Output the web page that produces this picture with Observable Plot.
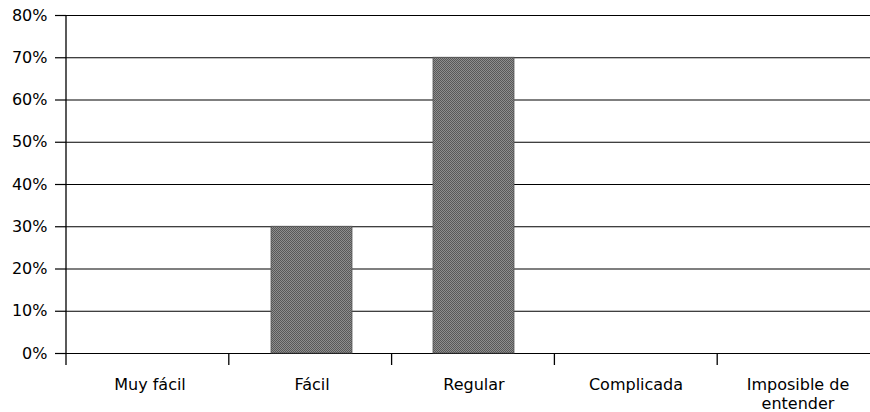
<!DOCTYPE html>
<html><head><meta charset="utf-8">
<script src="https://cdn.jsdelivr.net/npm/d3@7"></script>
<script src="https://cdn.jsdelivr.net/npm/@observablehq/plot@0.6"></script>
<style>html,body{margin:0;padding:0;background:#fff;overflow:hidden}</style>
</head><body><div id="chart"></div>
<script>
const categories = ["Muy fácil", "Fácil", "Regular", "Complicada", "Imposible de\nentender"];
const values = [0, 0.30, 0.70, 0, 0];
const yTicks = [0, 0.1, 0.2, 0.3, 0.4, 0.5, 0.6, 0.7, 0.8];

const data = categories.map((c, i) => ({category: c, value: values[i]}));

// halftone-like pattern for the bar fill
function patternDefs() {
  const svg = d3.create("svg:defs");
  const p = svg.append("pattern").attr("id", "halftone")
    .attr("width", 2).attr("height", 2).attr("patternUnits", "userSpaceOnUse");
  p.append("rect").attr("width", 2).attr("height", 2).attr("fill", "#8e8e8e");
  p.append("rect").attr("width", 1).attr("height", 1).attr("fill", "#585858");
  p.append("rect").attr("x", 1).attr("y", 1).attr("width", 1).attr("height", 1).attr("fill", "#585858");
  return svg.node();
}

// category separator ticks and vertical axis line, derived from the scales
function categoryTicks(index, scales, values, dimensions) {
  const {y} = scales;
  const {marginLeft, marginRight, width} = dimensions;
  const n = categories.length;
  const step = (width - marginRight - marginLeft) / n;
  const y0 = y(0), yTop = y(yTicks[yTicks.length - 1]);
  const g = d3.create("svg:g").attr("stroke", "#000").attr("stroke-width", 1.3);
  g.append("line").attr("x1", marginLeft).attr("x2", marginLeft).attr("y1", yTop).attr("y2", y0 + 12);
  for (let i = 1; i <= n; i++) {
    const xb = marginLeft + i * step;
    g.append("line").attr("x1", xb).attr("x2", xb).attr("y1", y0).attr("y2", y0 + 12);
  }
  return g.node();
}

const chart = Plot.plot({
  width: 870,
  height: 412,
  marginLeft: 66,
  marginRight: -10,
  marginTop: 15,
  marginBottom: 59,
  style: {fontFamily: "DejaVu Sans", fontSize: "16px", color: "#000", background: "#fff"},
  x: {domain: categories, paddingInner: 0.5, paddingOuter: 0.25, label: null},
  y: {domain: [0, 0.8], label: null},
  marks: [
    patternDefs,
    Plot.ruleY(yTicks, {stroke: "#000", strokeWidth: 1.2}),
    Plot.barY(data, {x: "category", y: "value", fill: "url(#halftone)", stroke: "#555", strokeWidth: 0.8}),
    Plot.axisY(yTicks, {tickSize: 11, tickPadding: 8, tickFormat: d3.format(".0%"), fontSize: 16, label: null, stroke: "#000", strokeWidth: 1.2}),
    Plot.axisX({tickSize: 0, tickPadding: 23, fontSize: 16, lineHeight: 1.18, label: null}),
    categoryTicks
  ]
});
document.getElementById("chart").appendChild(chart);
</script>
</body></html>
